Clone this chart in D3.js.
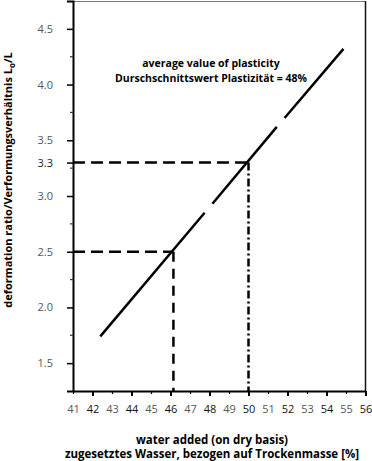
<!DOCTYPE html>
<html lang="en">
<head>
	<meta charset="UTF-8">
	<title>Deformation ratio</title>
	<script src="https://d3js.org/d3.v7.min.js"></script>
	<style>
		body { margin: 0; background: #fff; }
		svg { display: block; font-family: "Open Sans", sans-serif; }
	</style>
</head>
<body>
	<div id="chart"></div>

<script>
	// values
	const xTicks = [41, 42, 43, 44, 45, 46, 47, 48, 49, 50, 51, 52, 53, 54, 55, 56]
	const yTicks = [1.5, 2.0, 2.5, 3.0, 3.3, 3.5, 4.0, 4.5]
	const yMinorTicks = [1.75, 2.25, 2.75, 3.25, 3.75, 4.25]
	// the curve is drawn broken in three pieces
	const lineSegments = [
		[[42.4, 1.74], [47.75, 2.85]],
		[[48.15, 2.93], [51.45, 3.62]],
		[[51.85, 3.70], [54.87, 4.32]]
	]
	const readWater = [46.15, 50]
	const readRatio = [2.5, 3.3]
	const noteLines = ['average value of plasticity', 'Durschschnittswert Plastizität = 48%']
	const xTitle = ['water added (on dry basis)', 'zugesetztes Wasser, bezogen auf Trockenmasse [%]']

	const W = 372, H = 461
	const plot = { left: 73, right: 365.5, top: 1, bottom: 391 }

	const svg = d3.select('#chart').append('svg').attr('width', W).attr('height', H)

	const x = d3.scaleLinear().domain([41, 56]).range([plot.left, plot.right])
	const y = d3.scaleLinear().domain([1.25, 4.75]).range([plot.bottom, plot.top])

	// frame: thin grey top, black right
	svg.append('line').attr('x1', plot.left).attr('x2', plot.right).attr('y1', plot.top + 0.5).attr('y2', plot.top + 0.5)
		.attr('stroke', '#777').attr('stroke-width', 1)
	svg.append('line').attr('x1', plot.right).attr('x2', plot.right).attr('y1', plot.top).attr('y2', plot.bottom)
		.attr('stroke', '#111').attr('stroke-width', 1.5)

	// x axis
	const xAxis = svg.append('g').attr('transform', `translate(0,${plot.bottom})`)
		.call(d3.axisBottom(x).tickValues(xTicks).tickFormat(d3.format('d')).tickSizeOuter(0))
	xAxis.select('.domain').attr('stroke', '#000').attr('stroke-width', 2)
	xAxis.selectAll('.tick line')
		.attr('stroke', '#000')
		.attr('stroke-width', d => d % 2 == 0 ? 2 : 1.2)
		.attr('y2', d => d % 2 == 0 ? 5 : 3)
	xAxis.selectAll('.tick text')
		.attr('y', 14)
		.attr('font-size', 11)
		.attr('font-family', '"Open Sans", sans-serif')
		.attr('fill', d => d % 2 == 0 ? '#111' : '#555')

	// y axis
	const yAxis = svg.append('g').attr('transform', `translate(${plot.left},0)`)
		.call(d3.axisLeft(y).tickValues(yTicks).tickFormat(d3.format('.1f')).tickSizeOuter(0).tickSize(6))
	yAxis.select('.domain').attr('stroke', '#000').attr('stroke-width', 2)
	yAxis.selectAll('.tick line').attr('stroke', '#000').attr('stroke-width', 1.5)
	yAxis.selectAll('.tick text')
		.attr('x', -20)
		.attr('font-size', 11)
		.attr('font-family', '"Open Sans", sans-serif')
		.attr('fill', d => d == 3.3 ? '#222' : '#555')

	svg.append('g').selectAll('line').data(yMinorTicks).join('line')
		.attr('x1', plot.left - 3).attr('x2', plot.left)
		.attr('y1', d => y(d)).attr('y2', d => y(d))
		.attr('stroke', '#333').attr('stroke-width', 1.2)

	// reading lines
	svg.append('line')
		.attr('x1', plot.left).attr('x2', x(readWater[0]))
		.attr('y1', y(readRatio[0])).attr('y2', y(readRatio[0]))
		.attr('stroke', '#000').attr('stroke-width', 2.5).attr('stroke-dasharray', '12,6')
	svg.append('line')
		.attr('x1', x(readWater[0])).attr('x2', x(readWater[0]))
		.attr('y1', y(readRatio[0])).attr('y2', plot.bottom)
		.attr('stroke', '#000').attr('stroke-width', 2.5).attr('stroke-dasharray', '10,7')
	svg.append('line')
		.attr('x1', plot.left).attr('x2', x(readWater[1]))
		.attr('y1', y(readRatio[1])).attr('y2', y(readRatio[1]))
		.attr('stroke', '#000').attr('stroke-width', 2.5).attr('stroke-dasharray', '12,6')
	svg.append('line')
		.attr('x1', x(readWater[1])).attr('x2', x(readWater[1]))
		.attr('y1', y(readRatio[1])).attr('y2', plot.bottom)
		.attr('stroke', '#000').attr('stroke-width', 2.5).attr('stroke-dasharray', '8,3,2,3')

	// main curve
	const line = d3.line().x(d => x(d[0])).y(d => y(d[1]))
	svg.append('g').selectAll('path').data(lineSegments).join('path')
		.attr('d', line)
		.attr('fill', 'none').attr('stroke', '#000').attr('stroke-width', 2.5)

	// note
	svg.append('g').selectAll('text').data(noteLines).join('text')
		.attr('x', 211).attr('y', (d, i) => 67 + i * 15)
		.attr('text-anchor', 'middle')
		.attr('font-size', 10.5).attr('font-weight', 'bold')
		.text(d => d)

	// axis titles
	svg.append('g').selectAll('text').data(xTitle).join('text')
		.attr('x', 212).attr('y', (d, i) => 444 + i * 14)
		.attr('text-anchor', 'middle')
		.attr('font-size', 11.5).attr('font-weight', 'bold')
		.text(d => d)

	const yTitle = svg.append('text')
		.attr('transform', `translate(12,180) rotate(-90)`)
		.attr('text-anchor', 'middle')
		.attr('font-size', 11).attr('font-weight', 'bold')
	yTitle.append('tspan').text('deformation ratio/Verformungsverhältnis L')
	yTitle.append('tspan').attr('dy', 3).attr('font-size', 8).text('o')
	yTitle.append('tspan').attr('dy', -3).text('/L')
</script>
</body>
</html>
